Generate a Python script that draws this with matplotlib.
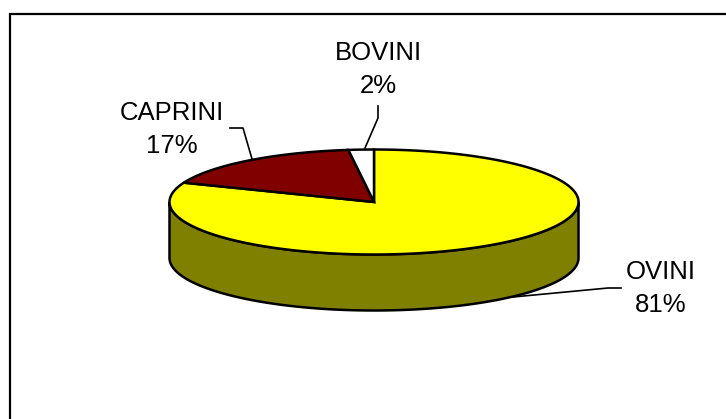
import numpy as np
import matplotlib
matplotlib.use("Agg")
import matplotlib.pyplot as plt
from matplotlib.patches import Polygon

categories = ["OVINI", "CAPRINI", "BOVINI"]
shares = [81, 17, 2]
top_colors = ["#FFFF00", "#800000", "#FFFFFF"]
side_color = "#808000"

W, H = 726, 419
cx, cy = 374.0, 202.0
rx, ry = 204.5, 52.5
depth = 56
edge_w = 1.8

plt.rcParams["font.family"] = ["Liberation Sans", "DejaVu Sans"]
fig = plt.figure(figsize=(W / 100, H / 100), dpi=100, facecolor="white")
ax = fig.add_axes([0, 0, 1, 1])
ax.set_xlim(0, W)
ax.set_ylim(H, 0)
ax.axis("off")

# Chart frame: only the top and left sides fall on the canvas
ax.plot([10, 10, W], [H, 14, 14], color="black", lw=1.6, solid_joinstyle="miter", zorder=1)


def rim(t):
    """Point on the top ellipse; t is clockwise from twelve o'clock."""
    return cx + rx * np.sin(t), cy - ry * np.cos(t)


# Side wall of the disc (the front half of the rim, extruded downward)
t_front = np.linspace(np.pi / 2, 3 * np.pi / 2, 240)
xf, yf = rim(t_front)
wall = np.column_stack([np.r_[xf, xf[::-1]], np.r_[yf, yf[::-1] + depth]])
ax.add_patch(Polygon(wall, closed=True, fc=side_color, ec="black", lw=edge_w, zorder=2))

# Top face slices, clockwise from twelve o'clock
edges = np.cumsum([0] + shares) / sum(shares) * 2 * np.pi
for start, stop, color in zip(edges[:-1], edges[1:], top_colors):
    t = np.linspace(start, stop, max(int((stop - start) * 80), 8))
    x, y = rim(t)
    pts = np.column_stack([np.r_[cx, x], np.r_[cy, y]])
    ax.add_patch(Polygon(pts, closed=True, fc=color, ec="black", lw=edge_w, zorder=3))

# Leader lines from the labels to the slices
leaders = [
    ([621, 608, 513], [288, 288, 297]),
    ([230, 243, 252], [128, 128, 159]),
    ([378, 378, 365], [106, 118, 148]),
]
for lx, ly in leaders:
    ax.plot(lx, ly, color="black", lw=1.2, zorder=4)

# Category and percentage labels
label_pos = [(660.5, 288.5), (172, 129.5), (378.5, 69.5)]
for name, share, (tx, ty) in zip(categories, shares, label_pos):
    ax.text(tx, ty, f"{name}\n{share}%", ha="center", va="center", fontsize=18.5,
            color="black", linespacing=1.43, zorder=5)

fig.savefig("out.png", dpi=100, facecolor="white")
